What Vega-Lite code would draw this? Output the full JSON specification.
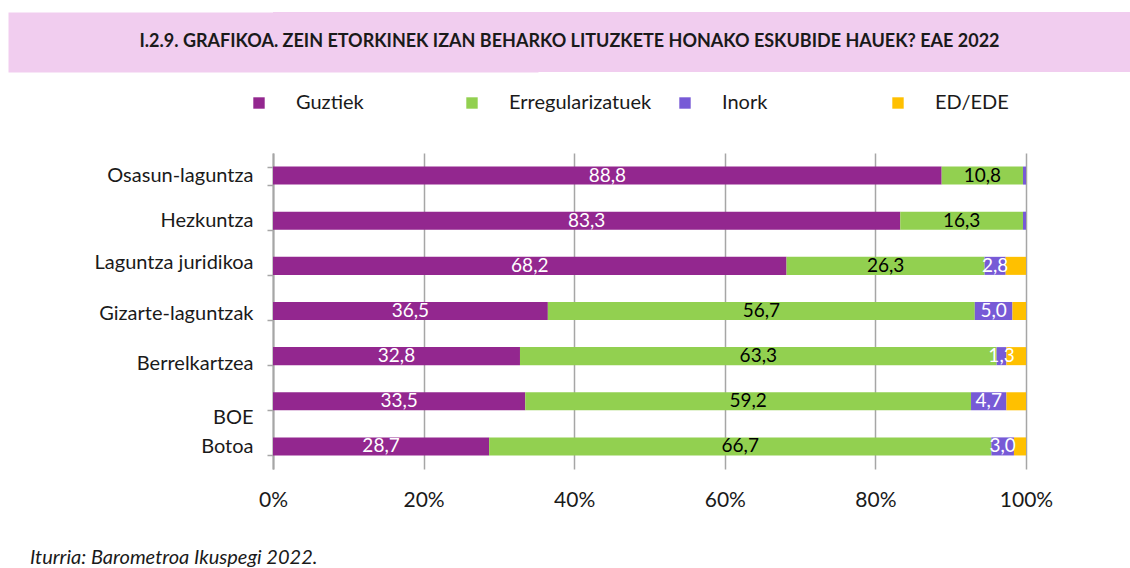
{
  "$schema": "https://vega.github.io/schema/vega-lite/v6.json",
  "padding": {"left": 8, "top": 12, "right": 0, "bottom": 0},
  "autosize": {"type": "pad"},
  "background": "white",
  "spacing": 71,
  "config": {
    "font": "Lato",
    "view": {"stroke": null},
    "locale": {"number": {"decimal": ",", "thousands": ".", "grouping": [3], "currency": ["", " €"]}}
  },
  "datasets": {
    "bars": [
      {"cat": "Osasun-laguntza", "serie": "Guztiek", "ord": 1, "value": 88.8},
      {"cat": "Osasun-laguntza", "serie": "Erregularizatuek", "ord": 2, "value": 10.8},
      {"cat": "Osasun-laguntza", "serie": "Inork", "ord": 3, "value": 0.4},
      {"cat": "Osasun-laguntza", "serie": "ED/EDE", "ord": 4, "value": 0.0},
      {"cat": "Hezkuntza", "serie": "Guztiek", "ord": 1, "value": 83.3},
      {"cat": "Hezkuntza", "serie": "Erregularizatuek", "ord": 2, "value": 16.3},
      {"cat": "Hezkuntza", "serie": "Inork", "ord": 3, "value": 0.4},
      {"cat": "Hezkuntza", "serie": "ED/EDE", "ord": 4, "value": 0.0},
      {"cat": "Laguntza juridikoa", "serie": "Guztiek", "ord": 1, "value": 68.2},
      {"cat": "Laguntza juridikoa", "serie": "Erregularizatuek", "ord": 2, "value": 26.3},
      {"cat": "Laguntza juridikoa", "serie": "Inork", "ord": 3, "value": 2.8},
      {"cat": "Laguntza juridikoa", "serie": "ED/EDE", "ord": 4, "value": 2.7},
      {"cat": "Gizarte-laguntzak", "serie": "Guztiek", "ord": 1, "value": 36.5},
      {"cat": "Gizarte-laguntzak", "serie": "Erregularizatuek", "ord": 2, "value": 56.7},
      {"cat": "Gizarte-laguntzak", "serie": "Inork", "ord": 3, "value": 5.0},
      {"cat": "Gizarte-laguntzak", "serie": "ED/EDE", "ord": 4, "value": 1.8},
      {"cat": "Berrelkartzea", "serie": "Guztiek", "ord": 1, "value": 32.8},
      {"cat": "Berrelkartzea", "serie": "Erregularizatuek", "ord": 2, "value": 63.3},
      {"cat": "Berrelkartzea", "serie": "Inork", "ord": 3, "value": 1.3},
      {"cat": "Berrelkartzea", "serie": "ED/EDE", "ord": 4, "value": 2.6},
      {"cat": "BOE", "serie": "Guztiek", "ord": 1, "value": 33.5},
      {"cat": "BOE", "serie": "Erregularizatuek", "ord": 2, "value": 59.2},
      {"cat": "BOE", "serie": "Inork", "ord": 3, "value": 4.7},
      {"cat": "BOE", "serie": "ED/EDE", "ord": 4, "value": 2.6},
      {"cat": "Botoa", "serie": "Guztiek", "ord": 1, "value": 28.7},
      {"cat": "Botoa", "serie": "Erregularizatuek", "ord": 2, "value": 66.7},
      {"cat": "Botoa", "serie": "Inork", "ord": 3, "value": 3.0},
      {"cat": "Botoa", "serie": "ED/EDE", "ord": 4, "value": 1.6}
    ],
    "head": [{"t": "I.2.9. GRAFIKOA. ZEIN ETORKINEK IZAN BEHARKO LITUZKETE HONAKO ESKUBIDE HAUEK? EAE 2022", "row": "a"}]
  },
  "vconcat": [
    {
      "width": 857,
      "height": 60,
      "view": {"fill": "#f1cdef", "stroke": null},
      "data": {"name": "head"},
      "mark": {"type": "text", "font": "Lato", "fontWeight": "bold", "fontSize": 18, "color": "#1a1a1a", "align": "center", "baseline": "middle", "dx": -132},
      "encoding": {
        "text": {"field": "t"},
        "y": {
          "field": "row",
          "type": "nominal",
          "axis": {
            "title": null,
            "labels": false,
            "ticks": false,
            "grid": false,
            "domain": true,
            "domainColor": "#f1cdef",
            "domainWidth": 530,
            "minExtent": 265,
            "zindex": 0
          }
        }
      }
    },
    {
      "width": 753,
      "height": 316,
      "data": {"name": "bars"},
      "title": {
        "text": "Iturria: Barometroa Ikuspegi 2022.",
        "orient": "bottom",
        "anchor": "start",
        "frame": "group",
        "dx": -243,
        "offset": 38,
        "font": "Lato",
        "fontSize": 20,
        "fontStyle": "italic",
        "fontWeight": "normal",
        "color": "#1a1a1a"
      },
      "transform": [
        {"stack": "value", "groupby": ["cat"], "sort": [{"field": "ord"}], "as": ["v0", "v1"]},
        {"calculate": "(datum.v0 + datum.v1) / 2", "as": "mid"}
      ],
      "encoding": {
        "y": {
          "field": "cat",
          "type": "nominal",
          "sort": ["Osasun-laguntza", "Hezkuntza", "Laguntza juridikoa", "Gizarte-laguntzak", "Berrelkartzea", "BOE", "Botoa"],
          "scale": {"paddingInner": 0.6, "paddingOuter": 0.3},
          "axis": {
            "title": null,
            "minExtent": 265,
            "tickBand": "extent",
            "tickSize": 6,
            "tickColor": "#a6a6a6",
            "tickWidth": 1.5,
            "domainColor": "#a6a6a6",
            "domainWidth": 2,
            "labelPadding": 14,
            "labelFont": "Lato",
            "labelFontSize": 20,
            "labelColor": "#1a1a1a",
            "labelLimit": 300,
            "labelOffset": {
              "condition": [
                {"test": "datum.value === 'BOE'", "value": 16},
                {"test": "datum.value === 'Berrelkartzea'", "value": 7},
                {"test": "datum.value === 'Gizarte-laguntzak'", "value": 2},
                {"test": "datum.value === 'Laguntza juridikoa'", "value": -3}
              ],
              "value": 0
            }
          }
        }
      },
      "layer": [
        {
          "mark": {"type": "bar"},
          "encoding": {
            "x": {
              "field": "v0",
              "type": "quantitative",
              "scale": {"domain": [0, 100], "nice": false},
              "axis": {
                "title": null,
                "values": [0, 20, 40, 60, 80, 100],
                "labelExpr": "datum.value + '%'",
                "labelFlush": false,
                "grid": true,
                "gridColor": "#a6a6a6",
                "gridWidth": 1.5,
                "domain": false,
                "ticks": false,
                "labelPadding": 20,
                "labelFont": "Lato",
                "labelFontSize": 21,
                "labelColor": "#1a1a1a"
              }
            },
            "x2": {"field": "v1"},
            "color": {
              "field": "serie",
              "type": "nominal",
              "sort": ["Guztiek", "Erregularizatuek", "Inork", "ED/EDE"],
              "scale": {"domain": ["Guztiek", "Erregularizatuek", "Inork", "ED/EDE"], "range": ["#93278f", "#92d050", "#775ad6", "#ffc000"]},
              "legend": {
                "title": null,
                "orient": "none",
                "direction": "horizontal",
                "columns": 4,
                "gridAlign": "all",
                "legendX": -24,
                "legendY": 81,
                "symbolType": "square",
                "symbolSize": 130,
                "symbolStrokeWidth": 0,
                "labelOffset": 27,
                "columnPadding": 23,
                "labelFont": "Lato",
                "labelFontSize": 20,
                "labelColor": "#1a1a1a",
                "labelLimit": 300
              }
            }
          }
        },
        {
          "transform": [{"filter": "datum.serie !== 'ED/EDE' && datum.value >= 1"}],
          "mark": {"type": "text", "font": "Lato", "fontSize": 19, "align": "center", "baseline": "middle"},
          "encoding": {
            "x": {"field": "mid", "type": "quantitative"},
            "text": {"field": "value", "type": "quantitative", "format": ".1f"},
            "color": {
              "condition": {"test": "datum.serie === 'Erregularizatuek'", "value": "#000000"},
              "value": "#ffffff"
            }
          }
        }
      ]
    }
  ]
}
